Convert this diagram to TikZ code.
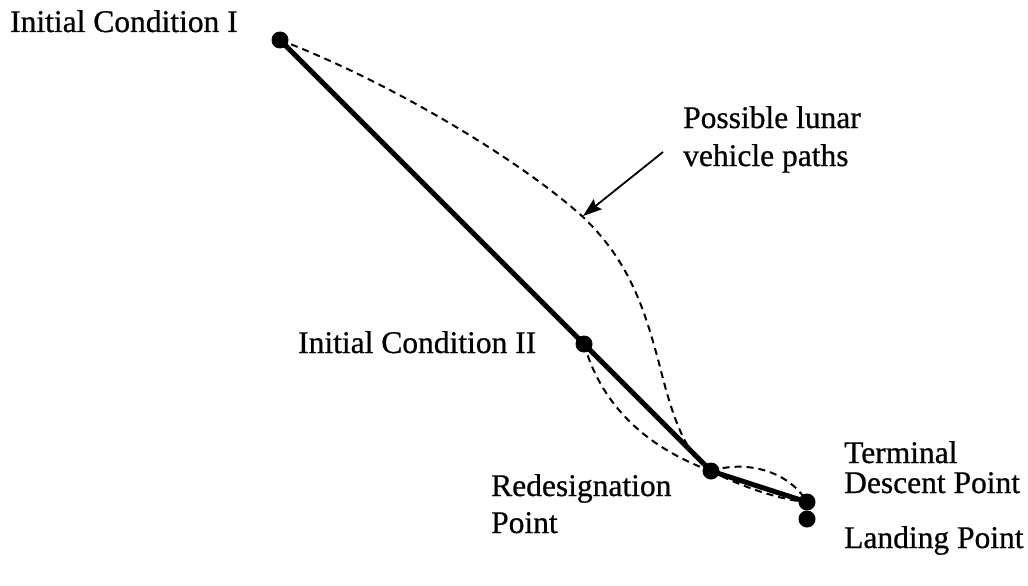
\documentclass[tikz,border=0pt]{standalone}
\usepackage{fontspec}
\setmainfont{Liberation Serif}
\newfontfamily\lblfont[FakeBold=0.7]{Liberation Serif}
\usetikzlibrary{arrows.meta}
\begin{document}
\begin{tikzpicture}[x=1pt,y=-1pt,
  dot/.style={circle,fill=black,inner sep=0pt,minimum size=17pt},
  lbl/.style={anchor=base west,inner sep=0pt,font=\lblfont\fontsize{31.5}{38}\selectfont},
  pathline/.style={line width=5pt,line join=round},
  possible/.style={line width=2pt,dash pattern=on 7pt off 5pt},
  pointer/.style={line width=1.8pt,-{Stealth[length=19pt,width=13pt,inset=3pt]}}]
\useasboundingbox (0,0) rectangle (1028,586);
% points
\node[dot] (ic1) at (280,40) {};
\node[dot] (ic2) at (584,344) {};
\node[dot] (rp) at (711,471) {};
\node[dot] (td) at (807,502) {};
\node[dot] (lp) at (807,519) {};
% nominal path
\draw[pathline] (ic1.center) -- (ic2.center) -- (rp.center) -- (td.center);
% possible paths
\draw[possible] (ic1.center) .. controls (390,82) and (520,160) .. (583,217)
  .. controls (630,262) and (645,310) .. (660,367)
  .. controls (672,415) and (685,455) .. (rp.center);
\draw[possible] (ic2.center) .. controls (600,400) and (640,445) .. (rp.center);
\draw[possible] (rp.center) .. controls (745,460) and (788,470) .. (td.center);
\draw[possible] (rp.center) .. controls (740,486) and (780,500) .. (td.center);
% pointer
\coordinate (arrS) at (663,152);
\coordinate (arrE) at (583,216);
\draw[pointer] (arrS) -- (arrE);
% labels
\node[lbl] (t1) at (10,32) {Initial Condition I};
\node[lbl] (t2a) at (683,128) {Possible lunar};
\node[lbl] (t2b) at (683,166) {vehicle paths};
\node[lbl] (t3) at (298,353) {Initial Condition II};
\node[lbl] (t4a) at (491,496) {Redesignation};
\node[lbl] (t4b) at (491,533) {Point};
\node[lbl] (t5a) at (844,463) {Terminal};
\node[lbl] (t5b) at (844,493) {Descent Point};
\node[lbl] (t6) at (844,548) {Landing Point};
\end{tikzpicture}
\end{document}
